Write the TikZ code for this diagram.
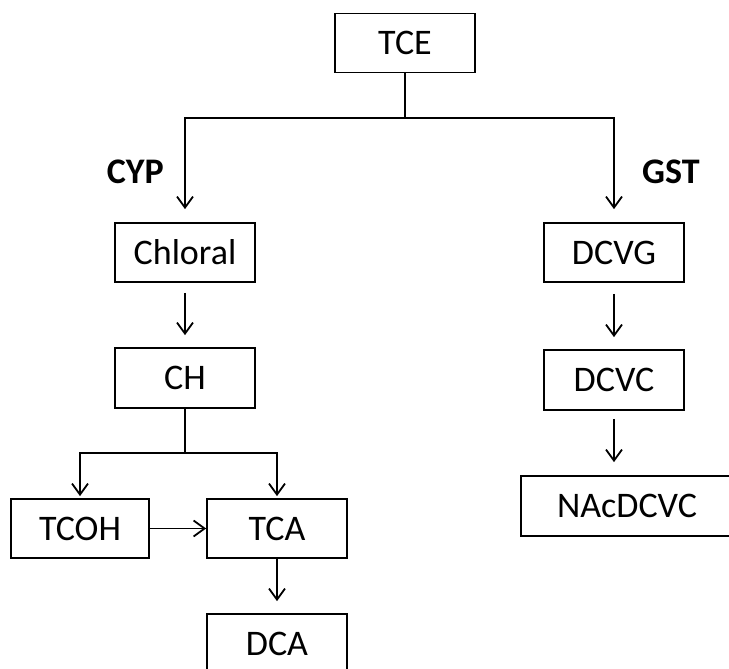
\documentclass[tikz,border=0pt]{standalone}
\usepackage{fontspec}
\setmainfont{Carlito}
\usetikzlibrary{arrows.meta}
\begin{document}
\begin{tikzpicture}[x=1pt,y=-1pt,
  box/.style={draw, line width=1.8pt, minimum width=140pt, minimum height=59pt,
    inner sep=0pt, text height=23pt, text depth=0pt, font=\fontsize{36}{40}\selectfont},
  lbl/.style={inner sep=0pt, text height=23pt, text depth=0pt, font=\fontsize{36}{40}\selectfont\bfseries},
  conn/.style={line width=1.8pt},
  arr/.style={conn, -{Straight Barb[length=11pt,width=16pt,line width=1.8pt]}}]
\useasboundingbox (0,0) rectangle (729,669);
\clip (0,0) rectangle (729,669);
% boxes
\node[box] (TCE) at (405,43) {TCE};
\node[box] (Chloral) at (185,252.5) {Chloral};
\node[box, minimum height=60pt] (CH) at (185,378) {CH};
\node[box, minimum width=138pt] (TCOH) at (80,528.5) {TCOH};
\node[box] (TCA) at (277,528.5) {TCA};
\node[box] (DCA) at (277,643.5) {DCA};
\node[box] (DCVG) at (614,252.5) {DCVG};
\node[box, minimum height=60pt] (DCVC) at (614,380) {DCVC};
\node[box, minimum width=212pt, minimum height=60pt] (NAc) at (627,506) {NAcDCVC};
% labels
\node[lbl, anchor=east] (cyp) at (164,172) {CYP};
\node[lbl, anchor=west] (gst) at (642,172) {GST};
% junctions
\coordinate (j1) at (405,118);
\coordinate (j2) at (185,453);
% connectors
\draw[conn] (TCE.south) -- (j1);
\draw[arr, shorten >=13pt] (j1) -| (Chloral.north);
\draw[arr, shorten >=13pt] (j1) -| (DCVG.north);
\draw[arr, shorten <=10pt, shorten >=12pt] (Chloral.south) -- (CH.north);
\draw[conn] (CH.south) -- (j2);
\draw[arr, shorten >=2pt] (j2) -| (TCOH.north);
\draw[arr, shorten >=2pt] (j2) -| (TCA.north);
\draw[arr] (TCOH.east) -- (TCA.west);
\draw[arr, shorten >=12pt] (TCA.south) -- (DCA.north);
\draw[arr, shorten <=11pt, shorten >=12pt] (DCVG.south) -- (DCVC.north);
\draw[arr, shorten <=8pt, shorten >=13pt] (DCVC.south) -- (DCVC.south |- NAc.north);
\end{tikzpicture}
\end{document}
